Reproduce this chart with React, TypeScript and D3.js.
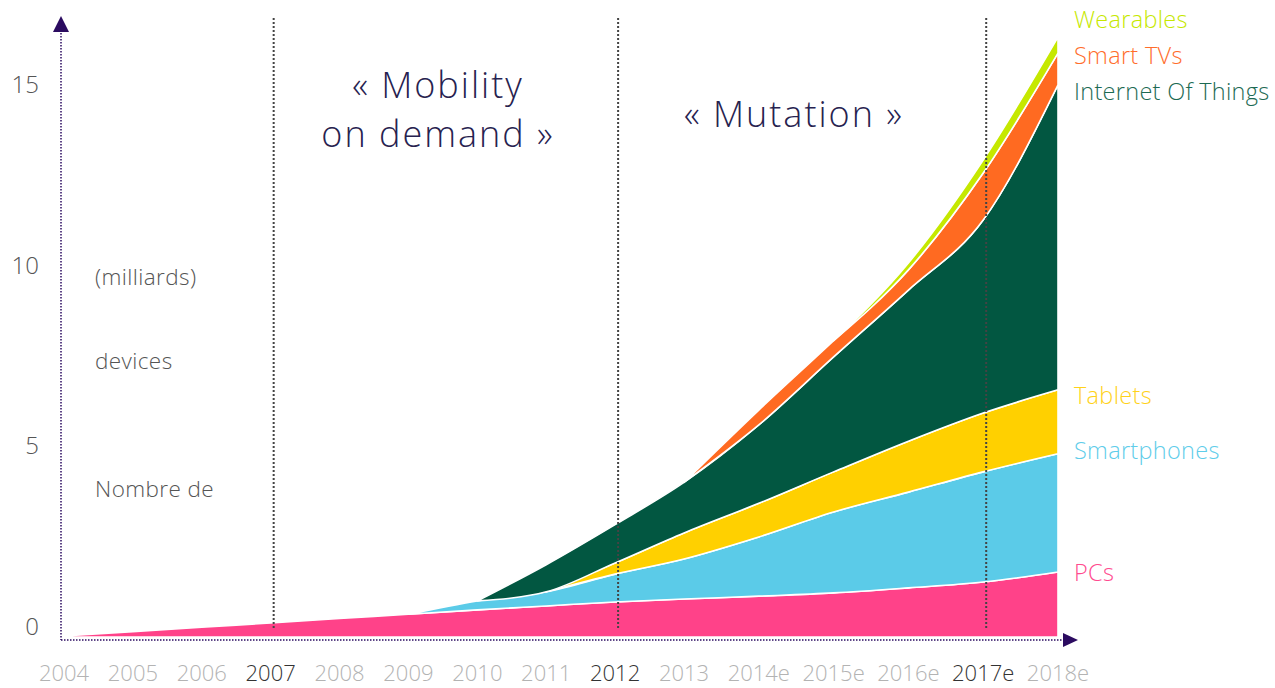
import * as d3 from "d3";

// years on the x axis (estimated years carry an "e")
const years = ["2004", "2005", "2006", "2007", "2008", "2009", "2010", "2011", "2012", "2013", "2014e", "2015e", "2016e", "2017e", "2018e"];
const markedYears = ["2007", "2012", "2017e"];

// devices, billions
const pcs = [0.03, 0.15, 0.27, 0.39, 0.51, 0.63, 0.75, 0.86, 0.97, 1.05, 1.13, 1.22, 1.36, 1.52, 1.8];
const smartphones = [0, 0, 0, 0, 0, 0, 0.25, 0.39, 0.77, 1.11, 1.64, 2.24, 2.65, 3.05, 3.27];
const tablets = [0, 0, 0, 0, 0, 0, 0, 0, 0.31, 0.72, 0.93, 1.11, 1.41, 1.63, 1.77];
const iot = [0, 0, 0, 0, 0, 0, 0, 0.75, 1.06, 1.4, 2.17, 3.18, 4.18, 5.34, 8.44];
const smartTvs = [0, 0, 0, 0, 0, 0, 0, 0, 0, 0, 0.41, 0.45, 0.56, 1.3, 0.88];
const wearables = [0, 0, 0, 0, 0, 0, 0, 0, 0, 0, 0, 0, 0.19, 0.36, 0.44];

const seriesNames = ["PCs", "Smartphones", "Tablets", "Internet Of Things", "Smart TVs", "Wearables"];
const seriesValues = [pcs, smartphones, tablets, iot, smartTvs, wearables];
const seriesColors = ["#ff4289", "#5bcbe8", "#ffd000", "#025741", "#ff6a21", "#c5e800"];
const labelColors = ["#ff4b8f", "#5fcdea", "#ffd21a", "#1c6a53", "#ff6d2b", "#c6e800"];

const yTicks = [0, 5, 10, 15];
const axisNote = ["(milliards)", "devices", "Nombre de"];

const W = 1275;
const H = 688;
const font = "'Open Sans', 'DejaVu Sans', sans-serif";

export default function App() {
  const x = d3.scaleLinear().domain([0, 9, 14]).range([64, 684, 1058]);
  const y = d3.scaleLinear().domain([0, 15]).range([637, 95]);

  const rows = years.map((yr, i) => {
    const r: Record<string, number> = {};
    seriesNames.forEach((k, j) => (r[k] = seriesValues[j][i]));
    return r;
  });
  const stacked = d3.stack<Record<string, number>>().keys(seriesNames)(rows);

  // only draw a layer where it (or the next point) is non-zero
  const areaFor = (j: number) =>
    d3
      .area<any>()
      .defined((_, i) => seriesValues[j][i] > 0 || (seriesValues[j][i + 1] ?? 0) > 0)
      .x((_, i) => x(i))
      .y0((d) => y(d[0]))
      .y1((d) => y(d[1]))
      .curve(d3.curveMonotoneX);

  // legend rows, on the right
  const legendY = [573, 451, 396, 92, 56, 20];

  const axisX = 61;
  const axisY = 640;

  return (
    <svg width={W} height={H} style={{ position: "absolute", left: 0, top: 0, background: "#fff" }} fontFamily={font}>
      {/* areas */}
      {stacked.map((s, j) => (
        <path
          key={s.key}
          d={areaFor(j)(s as any) ?? ""}
          fill={seriesColors[j]}
          stroke="#fff"
          strokeWidth={1.6}
          strokeLinejoin="round"
        />
      ))}

      {/* period separators */}
      {markedYears.map((yr) => (
        <line
          key={yr}
          x1={x(years.indexOf(yr)) + 3}
          x2={x(years.indexOf(yr)) + 3}
          y1={18}
          y2={628}
          stroke="#444"
          strokeWidth={2}
          strokeDasharray="2 2"
        />
      ))}

      {/* axes */}
      <line x1={axisX} x2={axisX} y1={30} y2={axisY} stroke="#2b0b60" strokeWidth={1.5} strokeDasharray="1.5 1.5" />
      <line x1={axisX} x2={1063} y1={axisY} y2={axisY} stroke="#2b0b60" strokeWidth={1.5} strokeDasharray="1.5 1.5" />
      <path d={`M${axisX - 8},32 L${axisX},16 L${axisX + 8},32 Z`} fill="#2b0b60" />
      <path d={`M1063,633 L1078,640 L1063,647 Z`} fill="#2b0b60" />

      {/* y tick labels */}
      {yTicks.map((t) => (
        <text key={t} x={39} y={y(t) - 2} textAnchor="end" fontSize={24} fill="#555" fontWeight={300}>
          {t}
        </text>
      ))}

      {/* x tick labels */}
      {years.map((yr, i) => (
        <text
          key={yr}
          x={x(i)}
          y={681}
          textAnchor="middle"
          fontSize={22}
          fontWeight={300}
          fill={markedYears.includes(yr) ? "#333" : "#b3b3b3"}
        >
          {yr}
        </text>
      ))}

      {/* axis note */}
      {axisNote.map((t, i) => (
        <text key={t} x={95} y={[285, 369, 497][i]} fontSize={22.5} letterSpacing={0.4} fontWeight={300} fill="#555">
          {t}
        </text>
      ))}

      {/* period titles */}
      <g fill="#27224f" fontSize={36} fontWeight={300} textAnchor="middle" letterSpacing={2}>
        <text x={438} y={98}>
          <tspan x={438}>« Mobility</tspan>
          <tspan x={438} dy={49}>on demand »</tspan>
        </text>
        <text x={794} y={127}>« Mutation »</text>
      </g>

      {/* legend */}
      {seriesNames.map((n, j) => (
        <text key={n} x={1074} y={legendY[j] + 8} fontSize={23.5} letterSpacing={0.3} fontWeight={300} fill={labelColors[j]}>
          {n}
        </text>
      ))}
    </svg>
  );
}
